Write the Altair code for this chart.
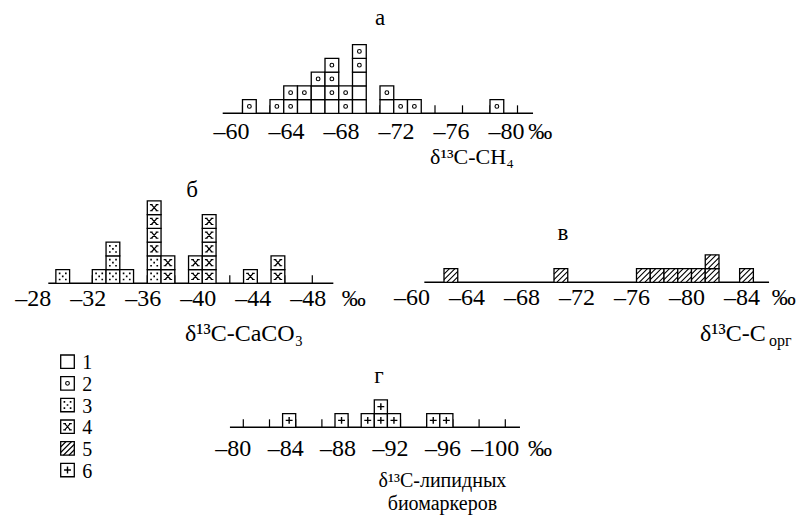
import altair as alt
import pandas as pd

W, H = 808, 517
FONT = "Liberation Serif, Times New Roman, DejaVu Serif, serif"
FS = 24

# ---------------- data ----------------
# Each square = one sample, placed in a 1‰ bin given by its upper (less negative) edge;
# list of types from bottom to top of the stack.
# Types: 1 empty, 2 ring, 3 dots, 4 cross, 5 hatch, 6 plus
A_BINS = [-60, -62, -63, -64, -65, -66, -67, -68, -70, -71, -72, -78]
A_TYPES = [[2], [2], [2, 2], [1, 2], [1, 1, 2], [1, 2, 2, 2], [2, 2], [1, 1, 1, 2, 2], [1, 2], [2], [2], [2]]
A_TICKS = [-60, -62, -64, -66, -68, -70, -72, -74, -76, -78, -80]
A_LABELS = [-60, -64, -68, -72, -76, -80]

B_BINS = [-29.35, -32, -33, -34, -36, -37, -39, -40, -43, -45]
B_TYPES = [[3], [3], [3, 3, 3], [3], [3, 3, 4, 4, 4, 4], [4, 4], [4, 4], [4, 4, 4, 4, 4], [4], [4, 4]]
B_TICKS = [-30, -32, -34, -36, -38, -40, -42, -44, -46, -48]
B_LABELS = [-28, -32, -36, -40, -44, -48]

C_BINS = [-62, -70, -76, -77, -78, -79, -80, -81, -83.5]
C_TYPES = [[5], [5], [5], [5], [5], [5], [5], [5, 5], [5]]
C_TICKS = []
C_LABELS = [-60, -64, -68, -72, -76, -80, -84]

D_BINS = [-83, -87, -89, -90, -91, -94, -95]
D_TYPES = [[6], [6], [6], [6, 6], [6], [6], [6]]
D_TICKS = [-80, -82, -84, -86, -88, -90, -92, -94, -96, -98, -100]
D_LABELS = [-80, -84, -88, -92, -96, -100]

LEGEND_TYPES = [1, 2, 3, 4, 5, 6]
LEGEND_TEXT = ["1", "2", "3", "4", "5", "6"]

# ---------------- pattern glyphs ----------------
DOTS = ("M-0.57,-0.57h0.24v0.24h-0.24z M0.33,-0.57h0.24v0.24h-0.24z "
        "M-0.12,-0.12h0.24v0.24h-0.24z M-0.57,0.33h0.24v0.24h-0.24z M0.33,0.33h0.24v0.24h-0.24z")
XSYM = ("M-0.4,-0.45L0.4,0.45M0.4,-0.45L-0.4,0.45"
        "M-0.62,-0.45L-0.22,-0.45M0.22,-0.45L0.62,-0.45M-0.62,0.45L-0.22,0.45M0.22,0.45L0.62,0.45")
HATCH = ("M-1,-0.2L-0.2,-1M-1,0.6L0.6,-1M-0.6,1L1,-0.6M0.2,1L1,0.2")
PLUS = "M-0.5,0L0.5,0M0,-0.5L0,0.5"
SQ = 13.75 ** 2
PATTERNS = {
    2: dict(shape="circle", size=14, filled=False, strokeWidth=1.1),
    3: dict(shape=DOTS, size=SQ, filled=True, strokeWidth=0),
    4: dict(shape=XSYM, size=SQ, filled=False, strokeWidth=1.2),
    5: dict(shape=HATCH, size=SQ, filled=False, strokeWidth=1.1),
    6: dict(shape=PLUS, size=SQ, filled=False, strokeWidth=1.4),
}


def xdom(a, p, u):
    d0 = a - p / u
    return [d0, d0 + W / u]


def ydom(a, p, v):
    e0 = a - (H - p) / v
    return [e0, e0 + H / v]


def text_layer(df, xs, ys, **kw):
    base = dict(font=FONT, fontSize=FS, color="black", baseline="alphabetic")
    base.update(kw)
    return alt.Chart(df).mark_text(**base).encode(
        x=alt.X("x:Q", scale=xs, axis=None),
        y=alt.Y("y:Q", scale=ys, axis=None),
        text="t:N",
    )


def pattern_layers(df, xs, ys):
    out = []
    for t, spec in PATTERNS.items():
        sub = df[df["t"] == t]
        if len(sub) == 0:
            continue
        out.append(
            alt.Chart(sub).mark_point(color="black", opacity=1, **spec).encode(
                x=alt.X("xc:Q", scale=xs, axis=None),
                y=alt.Y("yc:Q", scale=ys, axis=None),
            )
        )
    return out


TICK_LEN = 0.58


def panel(bins, types, ticks, labels, U, anchor, base, axis_ext, label_dx, label_dy,
          permille_dx, titles, letter):
    xs = alt.Scale(domain=xdom(anchor[0], anchor[1], U), nice=False, zero=False)
    ys = alt.Scale(domain=ydom(0, base, 13.75), nice=False, zero=False)
    layers = []
    ax = pd.DataFrame({"x": [axis_ext[0]], "x2": [axis_ext[1]], "y": [0]})
    layers.append(alt.Chart(ax).mark_rule(color="black", strokeWidth=1.5).encode(
        x=alt.X("x:Q", scale=xs, axis=None), x2="x2", y=alt.Y("y:Q", scale=ys, axis=None)))
    if ticks:
        tk = pd.DataFrame({"x": ticks, "y": 0.0, "y2": TICK_LEN})
        layers.append(alt.Chart(tk).mark_rule(color="black", strokeWidth=1.2).encode(
            x=alt.X("x:Q", scale=xs, axis=None), y=alt.Y("y:Q", scale=ys, axis=None), y2="y2"))
    rows = []
    for b, ts in zip(bins, types):
        for lvl, t in enumerate(ts):
            rows.append(dict(x=b, x2=b - 1, xc=b - 0.5, y=lvl, y2=lvl + 1, yc=lvl + 0.5, t=t))
    sq = pd.DataFrame(rows)
    layers.append(alt.Chart(sq).mark_rect(fill="white", stroke="black", strokeWidth=1.3).encode(
        x=alt.X("x:Q", scale=xs, axis=None), x2="x2",
        y=alt.Y("y:Q", scale=ys, axis=None), y2="y2"))
    layers += pattern_layers(sq, xs, ys)
    lb = pd.DataFrame({"x": labels, "y": 0, "t": ["–" + str(abs(v)) for v in labels]})
    layers.append(text_layer(lb, xs, ys, align="center", dx=label_dx, dy=label_dy))
    pm = pd.DataFrame({"x": [axis_ext[1]], "y": [0], "t": ["‰"]})
    layers.append(text_layer(pm, xs, ys, align="left", dx=permille_dx, dy=label_dy))
    for (txt, xv, dx, dy, fs, al) in titles:
        td = pd.DataFrame({"x": [xv], "y": [0], "t": [txt]})
        layers.append(text_layer(td, xs, ys, align=al, dx=dx, dy=dy, fontSize=fs,
                                 lineBreak="\n", lineHeight=23))
    ld = pd.DataFrame({"x": [letter[1]], "y": [0], "t": [letter[0]]})
    layers.append(text_layer(ld, xs, ys, align="center", dy=letter[2], fontSize=23))
    return alt.layer(*layers)


pa = panel(A_BINS, A_TYPES, A_TICKS, A_LABELS, -13.75, (-76, 462.5), 113.3, (-58.56, -81.13),
           -11, 26, -4.7, [("δ¹³C-CH₄", -73.64, 0, 51, 22, "left")], ("а", -70, -88.3))
pb = panel(B_BINS, B_TYPES, B_TICKS, B_LABELS, -13.75, (-48, 312.3), 283.3, (-28.8, -49.53),
           -4, 23, 8.4, [("δ¹³C-CaCO₃", -38.74, 0, 58, FS, "left")], ("б", -39.25, -86.3))
pc = panel(C_BINS, C_TYPES, C_TICKS, C_LABELS, -13.75, (-60, 416.5), 282.3, (-60.57, -85.64),
           -4.5, 22.5, 2.7, [("δ¹³C-C", -80.62, 0, 59, FS, "left"), ("орг", -80.62, 69, 64, 16, "left")],
           ("в", -70.65, -42.3))
pd_ = panel(D_BINS, D_TYPES, D_TICKS, D_LABELS, -13.1, (-80, 243.3), 427.3, (-78.98, -101.12),
            -10, 29, 8, [("δ¹³C-липидных\nбиомаркеров", -95.2, 0, 60, 20, "center")],
            ("г", -90.36, -44))

# ---------------- legend ----------------
lxs = alt.Scale(domain=xdom(0, 60.7, 13.6), nice=False, zero=False)
lys = alt.Scale(domain=ydom(1, 355, -21.67), nice=False, zero=False)
SQH = 13.4 / 21.67
lg = pd.DataFrame({
    "x": 0.0, "x2": 1.0, "xc": 0.5,
    "y": [i + 1 for i in range(len(LEGEND_TYPES))],
})
lg["y2"] = lg["y"] + SQH
lg["yc"] = lg["y"] + SQH / 2
lg["t"] = LEGEND_TYPES
legend_layers = [
    alt.Chart(lg).mark_rect(fill="white", stroke="black", strokeWidth=1.3).encode(
        x=alt.X("x:Q", scale=lxs, axis=None), x2="x2",
        y=alt.Y("y:Q", scale=lys, axis=None), y2="y2")
]
legend_layers += pattern_layers(lg, lxs, lys)
lt = pd.DataFrame({"x": 1.0, "y": lg["y2"], "t": LEGEND_TEXT})
legend_layers.append(text_layer(lt, lxs, lys, align="left", dx=8, dy=1, fontSize=20))
legend = alt.layer(*legend_layers)

chart = (
    alt.layer(pa, pb, pc, pd_, legend)
    .resolve_scale(x="independent", y="independent")
    .properties(width=W, height=H, autosize=alt.AutoSizeParams(type="none"), padding=0,
                background="white")
    .configure_view(stroke=None)
)

chart.save("out.html", embed_options={"renderer": "svg", "actions": False})
